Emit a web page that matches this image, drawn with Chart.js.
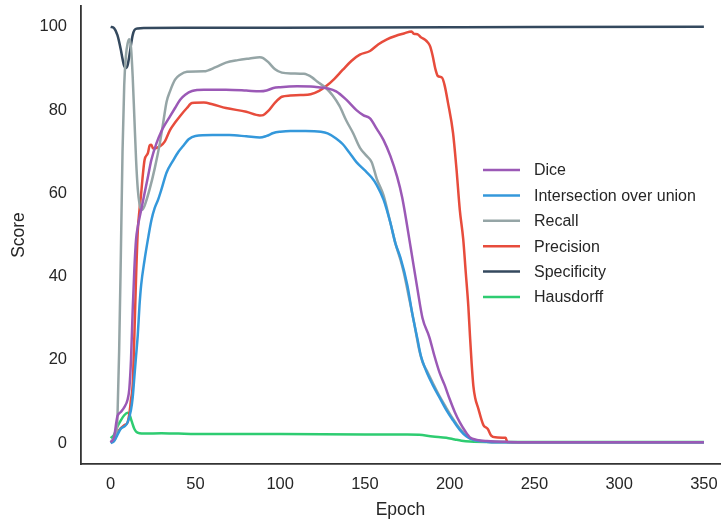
<!DOCTYPE html>
<html>
<head>
<meta charset="utf-8">
<script src="https://cdn.jsdelivr.net/npm/chart.js@4.4.1/dist/chart.umd.min.js"></script>
<style>
  html, body { margin: 0; padding: 0; background: #fff; }
  #chart { display: block; }
</style>
</head>
<body>
<canvas id="chart" width="722" height="523"></canvas>
<script>
// values (epoch, score)
const seriesNames = ['Dice', 'Intersection over union', 'Recall', 'Precision', 'Specificity', 'Hausdorff'];
const seriesColors = ['#9b59b6', '#3498db', '#95a5a6', '#e74c3c', '#34495e', '#2ecc71'];
const xTicks = [0, 50, 100, 150, 200, 250, 300, 350];
const yTicks = [0, 20, 40, 60, 80, 100];

const diceEpoch = [0, 2, 4, 6, 8, 10, 11, 12, 13, 14, 15, 16, 18, 20, 22, 24, 27, 30, 32, 35, 38, 41, 44, 48, 55, 68, 80, 88, 92, 96, 100, 110, 120, 124, 128, 133, 139, 145, 149, 153, 157, 161, 165, 169, 172, 177, 181, 184, 188, 191, 194, 197, 200, 203, 206, 209, 212, 216, 222, 235, 260, 300, 350];
const diceScore = [0.2, 1.5, 6.5, 7.5, 8.6, 10.5, 13, 20, 32, 42, 49, 52, 56, 60, 64, 68, 72, 75, 76.5, 78.5, 80.5, 82.5, 83.7, 84.6, 84.9, 84.9, 84.7, 84.5, 84.7, 85.3, 85.5, 85.7, 85.6, 85.4, 85.2, 84.5, 82.5, 80, 78.8, 78, 75.5, 72.8, 69, 64, 59, 47, 37, 30, 25.5, 21, 17, 14, 10.6, 7.5, 5, 3, 1.4, 0.8, 0.5, 0.3, 0.2, 0.2, 0.2];

const iouEpoch = [0, 2, 4, 6, 8, 10, 12, 13, 14, 15, 16, 17, 18, 20, 22, 24, 26, 28, 30, 33, 37, 40, 43, 46, 50, 60, 70, 80, 88, 92, 96, 100, 106, 115, 124, 128, 133, 137, 141, 145, 150, 154, 157, 161, 165, 168, 171, 175, 178, 181, 183, 186, 190, 194, 198, 202, 206, 210, 214, 220, 230, 350];
const iouScore = [0, 0.5, 2, 3.5, 4, 5, 8, 11, 16, 21, 26, 33, 38, 44, 49, 53.5, 56.5, 58.5, 61, 65, 68, 70, 71.5, 73, 73.8, 74, 74, 73.7, 73.4, 73.8, 74.5, 74.8, 75, 75, 74.8, 74.4, 73.2, 71.8, 69.7, 67.5, 65.5, 63.8, 62, 58.5, 53, 48, 44.5, 38, 31, 25, 21, 17.5, 14, 11, 8, 5.5, 3.2, 1.6, 0.8, 0.4, 0.2, 0.2];

const recallEpoch = [0, 2, 3, 4, 5, 6, 7, 8, 9, 10, 11, 12, 13, 14, 15, 16, 17, 18, 19, 20, 23, 26, 29, 31, 33, 35, 38, 41, 45, 55, 62, 68, 75, 82, 88, 90, 93, 97, 101, 107, 114, 119, 122, 127, 131, 135, 139, 143, 147, 151, 154, 157, 161, 165, 168, 171, 173, 176, 179, 182, 184, 187, 190, 194, 198, 202, 206, 210, 214, 220, 230, 350];
const recallScore = [0.5, 0.8, 1.5, 6, 22, 45, 70, 86, 93, 96, 97, 95, 88, 78, 68, 61, 57.5, 56, 56.2, 57, 61, 66, 72, 77, 82, 84.5, 87.3, 88.5, 89.2, 89.3, 90.3, 91.4, 92, 92.4, 92.7, 92.5, 91.5, 89.8, 89, 88.8, 88.7, 87.8, 86.8, 85.3, 83.5, 81, 77.5, 74.5, 71, 69, 67.5, 63.5, 59.5, 53, 48, 44, 40.9, 35, 29, 22.5, 19.5, 17, 14.5, 11.3, 8.5, 5.8, 3.5, 1.8, 0.8, 0.4, 0.2, 0.2];

const precisionEpoch = [0, 2, 4, 6, 8, 10, 11, 12, 13, 14, 15, 16, 17, 18, 19, 20, 22, 23, 24, 25, 27, 29, 32, 35, 38, 41, 45, 48, 55, 60, 68, 80, 88, 90, 93, 97, 101, 106, 112, 118, 123, 127, 132, 137, 142, 147, 153, 158, 163, 168, 173, 177.5, 179, 181, 183, 185.5, 187, 188.5, 190, 191.5, 193, 195.5, 197, 199, 202, 204, 206, 208, 209.5, 211, 212, 213, 214, 215, 217, 218.5, 220, 222.5, 224.5, 227, 233, 234, 240, 350];
const precisionScore = [0.2, 0.8, 2.5, 3.6, 4.3, 5, 7, 10.5, 14, 26, 40, 51, 56, 60, 64.5, 68, 69.7, 71.5, 71.7, 70.8, 70.9, 71.3, 72.5, 75.2, 77, 78.6, 80.5, 81.7, 81.8, 81.4, 80.5, 79.6, 78.7, 78.8, 79.8, 81.8, 83.2, 83.5, 83.6, 83.8, 84.6, 85.7, 87.5, 89.7, 91.8, 93.3, 94.2, 95.8, 97, 97.8, 98.4, 98.9, 98.3, 98.2, 97.5, 96.9, 96.3, 95.3, 93, 90, 88.2, 87.8, 86, 81.8, 74.5, 66, 56, 49, 41, 33, 25.7, 19, 13.7, 11, 8.2, 6, 4.3, 3.4, 1.8, 1.4, 1.3, 0.3, 0.2, 0.2];

const specificityEpoch = [0, 2, 4, 6, 7, 8, 9, 10, 11, 12, 13, 14, 16, 20, 50, 100, 150, 200, 250, 350];
const specificityScore = [100, 99.7, 98, 94.5, 92.3, 90.6, 90.1, 90.8, 93, 95.7, 98, 99.2, 99.6, 99.7, 99.75, 99.8, 99.85, 99.9, 99.95, 100];

const hausdorffEpoch = [0, 2, 4, 6, 8, 10, 11, 12, 13, 14, 15, 17, 20, 30, 40, 50, 100, 150, 175, 182, 190, 198, 203, 207, 212, 225, 350];
const hausdorffScore = [1.2, 2, 4, 5.5, 6.7, 7.3, 7, 5.8, 4.5, 3.4, 2.8, 2.4, 2.3, 2.4, 2.3, 2.2, 2.2, 2.1, 2.1, 2, 1.6, 1.3, 0.9, 0.6, 0.4, 0.3, 0.3];

const allEpochs = [diceEpoch, iouEpoch, recallEpoch, precisionEpoch, specificityEpoch, hausdorffEpoch];
const allScores = [diceScore, iouScore, recallScore, precisionScore, specificityScore, hausdorffScore];

const FONT = '"Liberation Sans", Arial, sans-serif';
const TEXT = '#262626';

function toPoints(xs, ys) {
    return xs.map((x, i) => ({ x: x, y: ys[i] }));
}

const datasets = seriesNames.map((name, i) => ({
    label: name,
    data: toPoints(allEpochs[i], allScores[i]),
    borderColor: seriesColors[i],
    backgroundColor: seriesColors[i],
    borderWidth: 2.5,
    pointRadius: 0,
    fill: false,
    cubicInterpolationMode: 'monotone'
}));

// legend inside the plot, right side
const innerLegend = {
    id: 'innerLegend',
    afterDraw(chart) {
        const ctx = chart.ctx;
        const x0 = 483, lineLen = 37, textX = 534, y0 = 170, step = 25.4;
        ctx.save();
        ctx.font = '16px ' + FONT;
        ctx.textBaseline = 'middle';
        ctx.textAlign = 'left';
        chart.data.datasets.forEach((ds, i) => {
            const y = y0 + i * step;
            ctx.strokeStyle = ds.borderColor;
            ctx.lineWidth = 2.5;
            ctx.beginPath();
            ctx.moveTo(x0, y);
            ctx.lineTo(x0 + lineLen, y);
            ctx.stroke();
            ctx.fillStyle = TEXT;
            ctx.fillText(ds.label, textX, y + 1);
        });
        ctx.restore();
    }
};

new Chart(document.getElementById('chart'), {
    type: 'line',
    data: { datasets: datasets },
    options: {
        responsive: false,
        animation: false,
        events: [],
        layout: { padding: { top: 6, right: 2, left: 0, bottom: 0 } },
        plugins: { legend: { display: false }, tooltip: { enabled: false } },
        scales: {
            x: {
                type: 'linear',
                min: -17.5,
                max: 359.5,
                afterBuildTicks: (s) => { s.ticks = xTicks.map(v => ({ value: v })); },
                afterFit: (s) => { s.height = 59; s.paddingLeft = 0; s.paddingRight = 0; },
                grid: { display: false, drawTicks: false },
                border: { display: true, color: '#333', width: 1.8 },
                ticks: { color: TEXT, font: { family: FONT, size: 16.5 }, padding: 11, maxRotation: 0 },
                title: { display: true, text: 'Epoch', color: TEXT, font: { family: FONT, size: 17.5 }, padding: { top: 0, bottom: 2 } }
            },
            y: {
                min: -5,
                max: 105,
                afterBuildTicks: (s) => { s.ticks = yTicks.map(v => ({ value: v })); },
                afterFit: (s) => { s.width = 81; s.paddingTop = 0; s.paddingBottom = 0; },
                grid: { display: false, drawTicks: false },
                border: { display: true, color: '#333', width: 1.8 },
                ticks: { color: TEXT, font: { family: FONT, size: 16.5 }, padding: 14 },
                title: { display: true, text: 'Score', color: TEXT, font: { family: FONT, size: 17.5 }, padding: { top: 9, bottom: 0 } }
            }
        }
    },
    plugins: [innerLegend]
});
</script>
</body>
</html>
